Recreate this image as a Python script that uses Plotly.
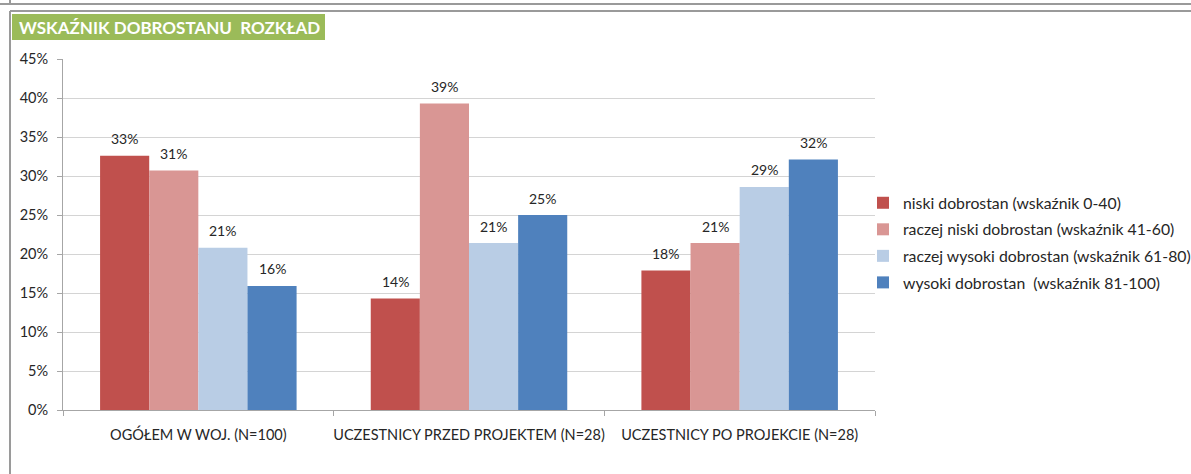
import plotly.graph_objects as go

W, H = 1191, 474

categories = ["OGÓŁEM W WOJ. (N=100)",
              "UCZESTNICY PRZED PROJEKTEM (N=28)",
              "UCZESTNICY PO PROJEKCIE (N=28)"]
series_names = ["niski dobrostan (wskaźnik 0-40)",
                "raczej niski dobrostan (wskaźnik 41-60)",
                "raczej wysoki dobrostan (wskaźnik 61-80)",
                "wysoki dobrostan  (wskaźnik 81-100)"]
niski = [0.326, 0.143, 0.179]
raczej_niski = [0.307, 0.393, 0.214]
raczej_wysoki = [0.208, 0.214, 0.286]
wysoki = [0.159, 0.250, 0.321]
colors = ["#C0504D", "#D99694", "#B9CDE5", "#4F81BD"]
y_ticks = [0, 0.05, 0.10, 0.15, 0.20, 0.25, 0.30, 0.35, 0.40, 0.45]

FONT = "Lato, 'Open Sans', sans-serif"
TXT = "#262626"

# plot area in pixels
X0, X1, Y0, Y1 = 63, 875, 59, 410
BAR_PX = (X1 - X0) / 3 * (1 - 0.274) / 4


def px(x):
    return x / W


def py(y):
    return 1 - y / H


fig = go.Figure()
all_series = [niski, raczej_niski, raczej_wysoki, wysoki]
for i, (name, vals, col) in enumerate(zip(series_names, all_series, colors)):
    fig.add_trace(go.Bar(
        x=categories, y=vals, name=name, legendgroup=name,
        marker=dict(color=col, line=dict(width=0)),
    ))
    # value labels above each bar
    for cat, v in zip(categories, vals):
        fig.add_annotation(x=cat, y=v, xref="x", yref="y",
                           text=f"{v:.0%}", showarrow=False,
                           xshift=(i - 1.5) * BAR_PX, yshift=17,
                           yanchor="middle",
                           font=dict(size=14, color=TXT, family=FONT))

fig.update_layout(
    width=W, height=H,
    margin=dict(l=0, r=0, t=0, b=0, autoexpand=False),
    paper_bgcolor="white", plot_bgcolor="white",
    font=dict(family=FONT, size=14, color=TXT),
    barmode="group", bargap=0.274, bargroupgap=0,
    showlegend=True,
    legend=dict(x=px(863), y=py(186), xanchor="left", yanchor="top",
                font=dict(size=15.8, color=TXT),
                bgcolor="rgba(0,0,0,0)", itemwidth=30, tracegroupgap=3),
    xaxis=dict(domain=[px(X0), px(X1)], range=[-0.5, 2.5],
               showline=True, linecolor="#A6A6A6",
               linewidth=1, ticks="outside", tickson="boundaries", ticklen=5,
               tickcolor="#A6A6A6", showgrid=False, ticklabelstandoff=12,
               tickangle=0, automargin=False,
               tickfont=dict(size=14.5, color=TXT)),
    yaxis=dict(domain=[py(Y1), py(Y0)], range=[0, 0.45], tickvals=y_ticks,
               tickformat=".0%", showline=True, linecolor="#A6A6A6", linewidth=1,
               ticks="outside", ticklen=5, tickcolor="#A6A6A6",
               showgrid=True, gridcolor="#D4D4D4", gridwidth=1, zeroline=False,
               ticklabelstandoff=6, automargin=False,
               tickfont=dict(size=14.5, color=TXT)),
)

# outer frames
frame = dict(color="#9A9A9A", width=2)
fig.add_shape(type="line", xref="paper", yref="paper",
              x0=0, x1=1, y0=py(4), y1=py(4), line=frame)
fig.add_shape(type="line", xref="paper", yref="paper",
              x0=px(10), x1=px(10), y0=1, y1=py(4), line=frame)
fig.add_shape(type="line", xref="paper", yref="paper",
              x0=px(10), x1=1, y0=py(11), y1=py(11), line=frame)
fig.add_shape(type="line", xref="paper", yref="paper",
              x0=px(10), x1=px(10), y0=0, y1=py(11), line=frame)

# title badge
fig.add_shape(type="rect", xref="paper", yref="paper",
              x0=px(12), x1=px(325), y0=py(40), y1=py(14),
              fillcolor="#9BBB59", line=dict(width=0), layer="below")
fig.add_annotation(xref="paper", yref="paper", x=px(169), y=py(27.5),
                   text="<b>WSKAŹNIK DOBROSTANU  ROZKŁAD</b>", showarrow=False,
                   font=dict(size=17, color="white", family=FONT),
                   xanchor="center", yanchor="middle")

page_css = ("document.documentElement.style.overflow='hidden';"
            "document.body.style.overflow='hidden';"
            "document.body.style.margin='0';")
fig.write_html("out.html", post_script=page_css)
